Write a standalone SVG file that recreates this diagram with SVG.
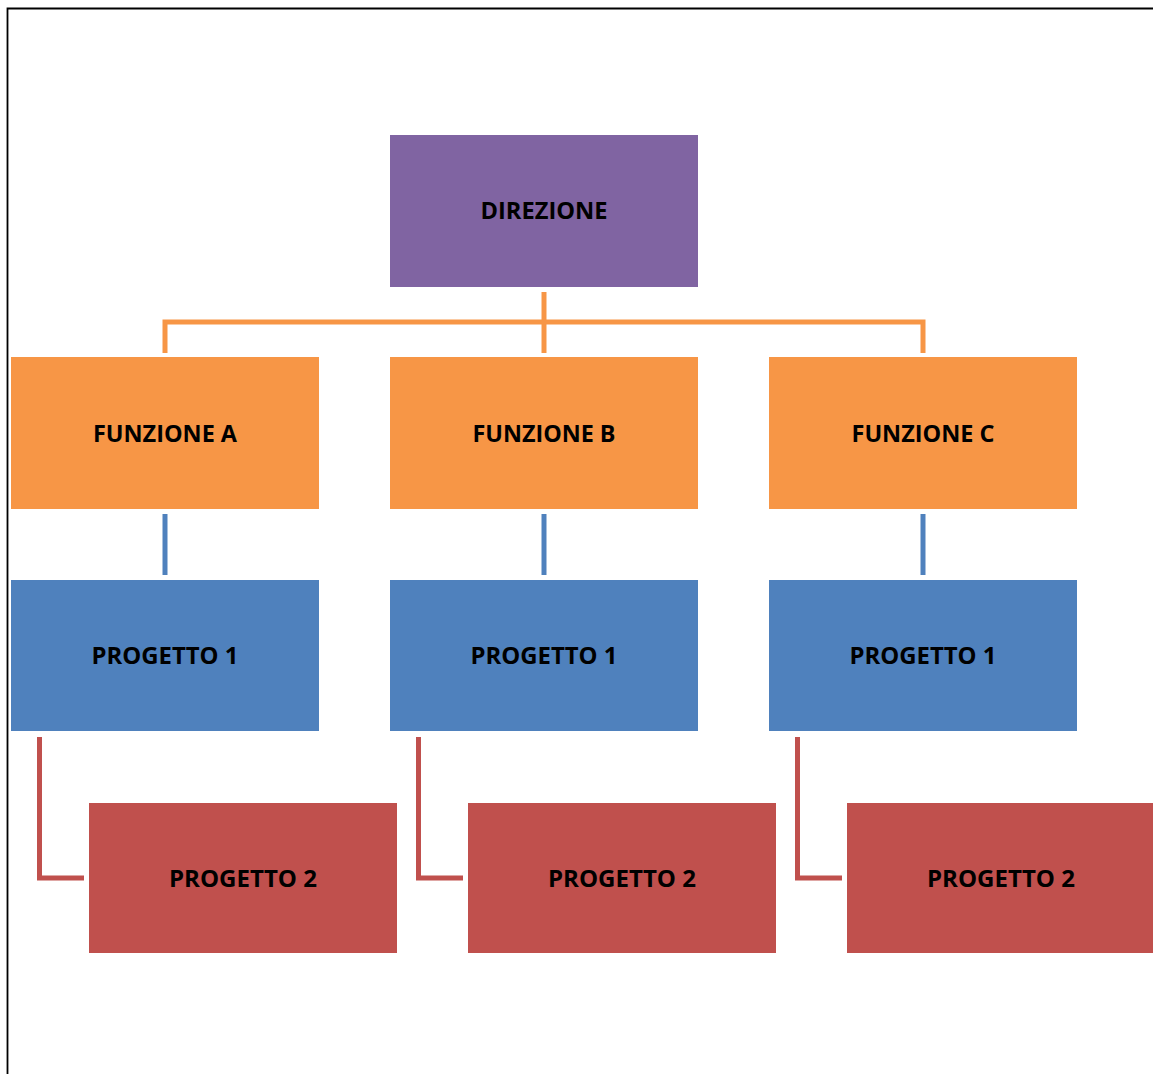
<svg xmlns="http://www.w3.org/2000/svg" width="1153" height="1074" viewBox="0 0 1153 1074">
  <style>
    .lbl { font-family: "Open Sans", "Liberation Sans", sans-serif; font-weight: bold; font-size: 24px; fill: #000; text-anchor: middle; }
    .dir { fill: #8064A2; }
    .fun { fill: #F79646; }
    .p1 { fill: #4F81BD; }
    .p2 { fill: #C0504D; }
    .c-or { stroke: #F79646; stroke-width: 5; fill: none; }
    .c-bl { stroke: #4F81BD; stroke-width: 5; fill: none; }
    .c-rd { stroke: #C0504D; stroke-width: 5; fill: none; }
  </style>
  <rect x="0" y="0" width="1153" height="1074" fill="#fff"/>
  <!-- page frame -->
  <path d="M7.5,1074 V8.5 H1153" stroke="#000" stroke-width="1.8" fill="none"/>

  <g id="connectors">
    <path class="c-or" d="M544,292 V353"/>
    <path class="c-or" d="M165,353 V322 H923 V353"/>
    <path class="c-bl" d="M165,514 V575"/>
    <path class="c-bl" d="M544,514 V575"/>
    <path class="c-bl" d="M923,514 V575"/>
    <path class="c-rd" d="M39.5,737 V878 H84"/>
    <path class="c-rd" d="M418.5,737 V878 H463"/>
    <path class="c-rd" d="M797.5,737 V878 H842"/>
  </g>

  <g id="direzione">
    <rect class="dir" x="390" y="135" width="308" height="152"/>
    <text class="lbl" x="544" y="219" textLength="127" lengthAdjust="spacingAndGlyphs">DIREZIONE</text>
  </g>

  <g id="funzione-a">
    <rect class="fun" x="11" y="357" width="308" height="152"/>
    <text class="lbl" x="165" y="442" textLength="144" lengthAdjust="spacingAndGlyphs">FUNZIONE A</text>
  </g>
  <g id="funzione-b">
    <rect class="fun" x="390" y="357" width="308" height="152"/>
    <text class="lbl" x="544" y="442" textLength="143" lengthAdjust="spacingAndGlyphs">FUNZIONE B</text>
  </g>
  <g id="funzione-c">
    <rect class="fun" x="769" y="357" width="308" height="152"/>
    <text class="lbl" x="923" y="442" textLength="143" lengthAdjust="spacingAndGlyphs">FUNZIONE C</text>
  </g>

  <g id="progetto1-a">
    <rect class="p1" x="11" y="580" width="308" height="151"/>
    <text class="lbl" x="165" y="664" textLength="147" lengthAdjust="spacingAndGlyphs">PROGETTO 1</text>
  </g>
  <g id="progetto1-b">
    <rect class="p1" x="390" y="580" width="308" height="151"/>
    <text class="lbl" x="544" y="664" textLength="147" lengthAdjust="spacingAndGlyphs">PROGETTO 1</text>
  </g>
  <g id="progetto1-c">
    <rect class="p1" x="769" y="580" width="308" height="151"/>
    <text class="lbl" x="923" y="664" textLength="147" lengthAdjust="spacingAndGlyphs">PROGETTO 1</text>
  </g>

  <g id="progetto2-a">
    <rect class="p2" x="89" y="803" width="308" height="150"/>
    <text class="lbl" x="243" y="887" textLength="148" lengthAdjust="spacingAndGlyphs">PROGETTO 2</text>
  </g>
  <g id="progetto2-b">
    <rect class="p2" x="468" y="803" width="308" height="150"/>
    <text class="lbl" x="622" y="887" textLength="148" lengthAdjust="spacingAndGlyphs">PROGETTO 2</text>
  </g>
  <g id="progetto2-c">
    <rect class="p2" x="847" y="803" width="308" height="150"/>
    <text class="lbl" x="1001" y="887" textLength="148" lengthAdjust="spacingAndGlyphs">PROGETTO 2</text>
  </g>
</svg>
